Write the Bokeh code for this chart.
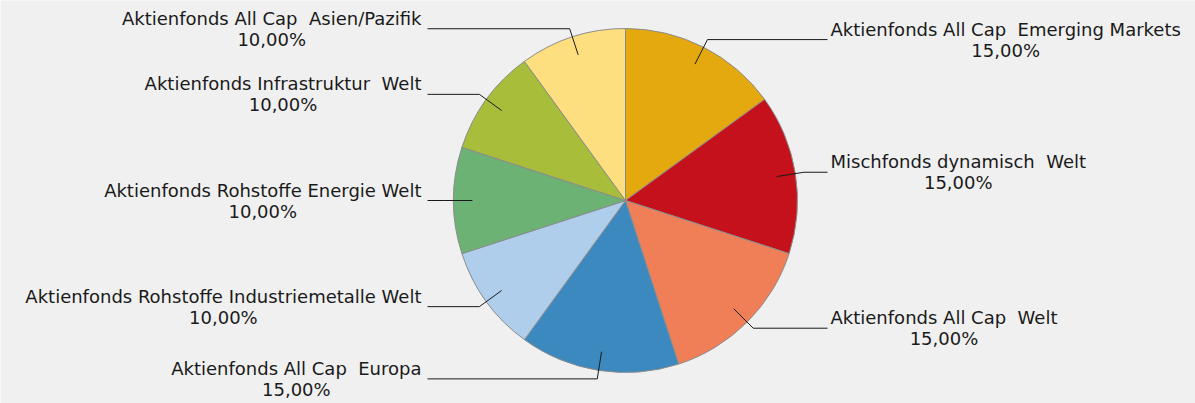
import numpy as np
from bokeh.plotting import figure
from bokeh.models import Range1d, ColumnDataSource
from bokeh.embed import file_html
from bokeh.resources import INLINE
from bokeh.core.properties import value

# ---- data (clockwise from 12 o'clock) ----
categories = [
    "Aktienfonds All Cap  Emerging Markets",
    "Mischfonds dynamisch  Welt",
    "Aktienfonds All Cap  Welt",
    "Aktienfonds All Cap  Europa",
    "Aktienfonds Rohstoffe Industriemetalle Welt",
    "Aktienfonds Rohstoffe Energie Welt",
    "Aktienfonds Infrastruktur  Welt",
    "Aktienfonds All Cap  Asien/Pazifik",
]
shares = [15.0, 15.0, 15.0, 15.0, 10.0, 10.0, 10.0, 10.0]
colors = ["#E4A90F", "#C4111B", "#F07F58", "#3B89BF",
          "#AECEEB", "#6CB274", "#A8BD3A", "#FEDF80"]

# ---- layout ----
W, H = 1195, 403
CX, CY = 625, 203      # pie centre (y up)
R = 172
R_IN, R_ELBOW = 0.89 * R, 1.05 * R
RIGHT_END, LEFT_END = 202, -198
GAP_R, GAP_L = 3, 6

vals = np.array(shares)
frac = vals / vals.sum()
cum_end = np.cumsum(frac)
cum_start = cum_end - frac
start_angle = np.pi / 2 - cum_end * 2 * np.pi
end_angle = np.pi / 2 - cum_start * 2 * np.pi
mid = (start_angle + end_angle) / 2

pct_labels = [("%.2f" % s).replace(".", ",") + "%" for s in shares]
# keep double spaces visible in SVG output
label_text = [c.replace("  ", " \u00a0") + "\n" + pl
              for c, pl in zip(categories, pct_labels)]

p = figure(width=W, height=H, x_range=Range1d(0, W), y_range=Range1d(0, H),
           output_backend="svg", toolbar_location=None, min_border=0,
           x_axis_type=None, y_axis_type=None,
           background_fill_color="#F0F0F0", border_fill_color="#F0F0F0",
           outline_line_color=None)
p.grid.visible = False

src = ColumnDataSource(dict(start=start_angle, end=end_angle, color=colors))
p.wedge(x=CX, y=CY, radius=R, start_angle="start", end_angle="end",
        fill_color="color", line_color="#8C8C8C", line_width=1, source=src)

xs, ys = [], []
rx, ry, rt = [], [], []
lx, ly, lt = [], [], []
for i, a in enumerate(mid):
    x0, y0 = CX + R_IN * np.cos(a), CY + R_IN * np.sin(a)
    x1, y1 = CX + R_ELBOW * np.cos(a), CY + R_ELBOW * np.sin(a)
    if np.cos(a) >= 0:
        x2 = CX + RIGHT_END
        rx.append(x2 + GAP_R); ry.append(y1); rt.append(label_text[i])
    else:
        x2 = CX + LEFT_END
        lx.append(x2 - GAP_L); ly.append(y1); lt.append(label_text[i])
    xs.append([x0, x1, x2]); ys.append([y0, y1, y1])

p.multi_line(xs=xs, ys=ys, line_color="#1A1A1A", line_width=1)

common = dict(text_font=value("DejaVu Sans"), text_font_size="18px",
              text_color="#1A1A1A", text_align="center", text_baseline="middle",
              text_line_height=1.0)
p.text(x=rx, y=ry, text=rt, anchor=value("center_left"), **common)
p.text(x=lx, y=ly, text=lt, anchor=value("center_right"), **common)

open("out.html", "w").write(file_html(p, INLINE))
